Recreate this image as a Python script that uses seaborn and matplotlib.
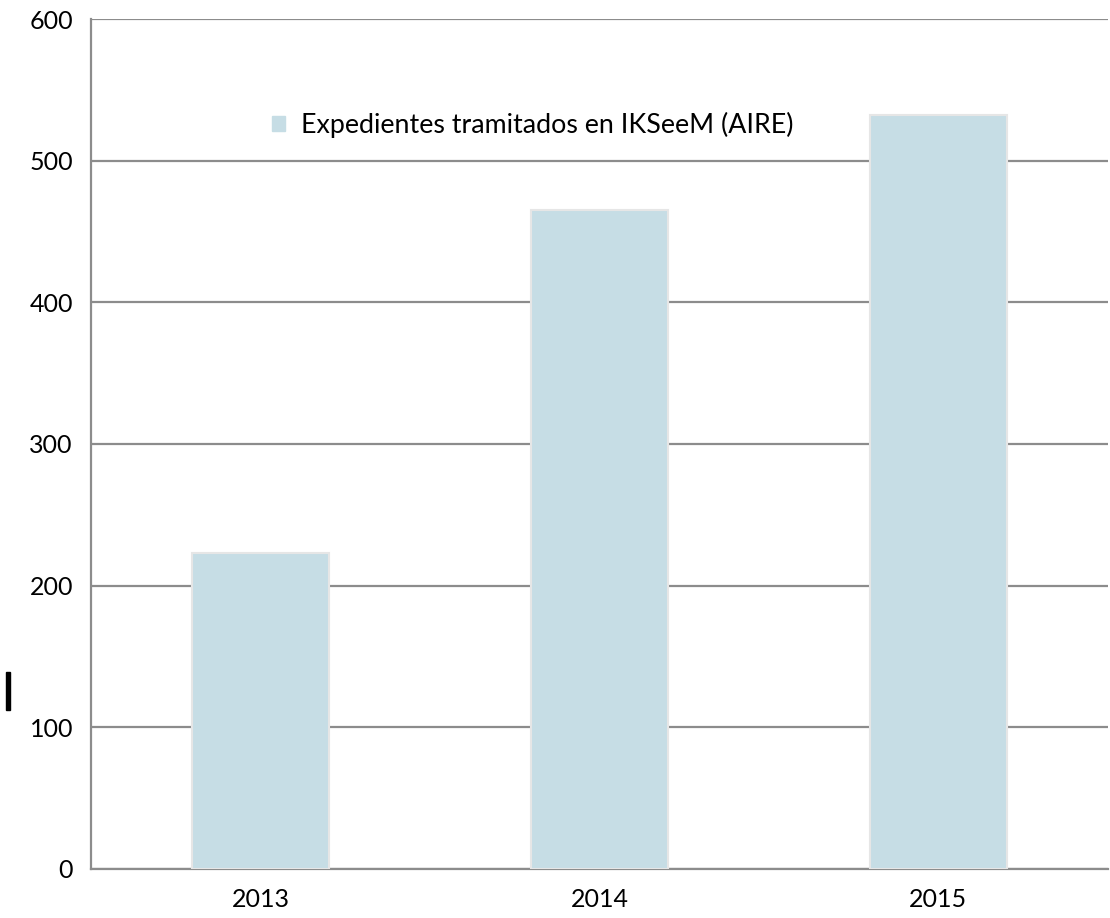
import matplotlib.pyplot as plt
import matplotlib.patches as mpatches
import seaborn as sns
import pandas as pd

years = ["2013", "2014", "2015"]
expedientes = [223, 465, 532]
series_label = "Expedientes tramitados en IKSeeM (AIRE)"

bar_color = "#c6dde5"
grid_color = "#8c8c8c"

sns.set_theme(style="white")
plt.rcParams['font.family'] = ['Lato', 'DejaVu Sans']
plt.rcParams['text.color'] = 'black'

df = pd.DataFrame({"Year": years, "Expedientes": expedientes})

fig = plt.figure(figsize=(11.1, 9.18), dpi=100)
ax = fig.add_axes([0.082, 0.0534, 0.916, 0.9259])

sns.barplot(x="Year", y="Expedientes", data=df, color=bar_color, width=0.404,
            edgecolor="#e6e6e6", linewidth=1.5, saturation=1, ax=ax, zorder=3)

ax.set_ylim(0, 600)
ax.set_xlim(-0.5, 2.5)
ax.set_yticks(range(0, 601, 100))
ax.yaxis.grid(True, color=grid_color, linewidth=1.6)
ax.set_axisbelow(True)
ax.set_xlabel("")
ax.set_ylabel("")

for s in ["top", "right"]:
    ax.spines[s].set_visible(False)
for s in ["left", "bottom"]:
    ax.spines[s].set_color(grid_color)
    ax.spines[s].set_linewidth(1.6)

ax.set_xticks([-0.5, 0.5, 1.5, 2.5], minor=True)
ax.tick_params(axis="x", which="major", length=0, pad=14, labelsize=18, colors="black")
ax.tick_params(axis="x", which="minor", length=7, width=1.6, color=grid_color, direction="out")
ax.tick_params(axis="y", length=7, width=1.6, color=grid_color, direction="out",
               pad=6, labelsize=18, labelcolor="black")

handle = mpatches.Patch(color=bar_color, label=series_label)
leg = ax.legend(handles=[handle], loc="center left", bbox_to_anchor=(0.178, 0.875),
                frameon=False, fontsize=19.3, handlelength=0.5, handleheight=0.5,
                handletextpad=0.6, borderaxespad=0, borderpad=0)
for t in leg.get_texts():
    t.set_color("black")

# small black mark at the left edge of the image
fig.patches.append(mpatches.Rectangle((0.0055, 0.227), 0.0035, 0.041,
                                      transform=fig.transFigure, color="black"))

plt.savefig("out.png", dpi=100)
plt.close()
